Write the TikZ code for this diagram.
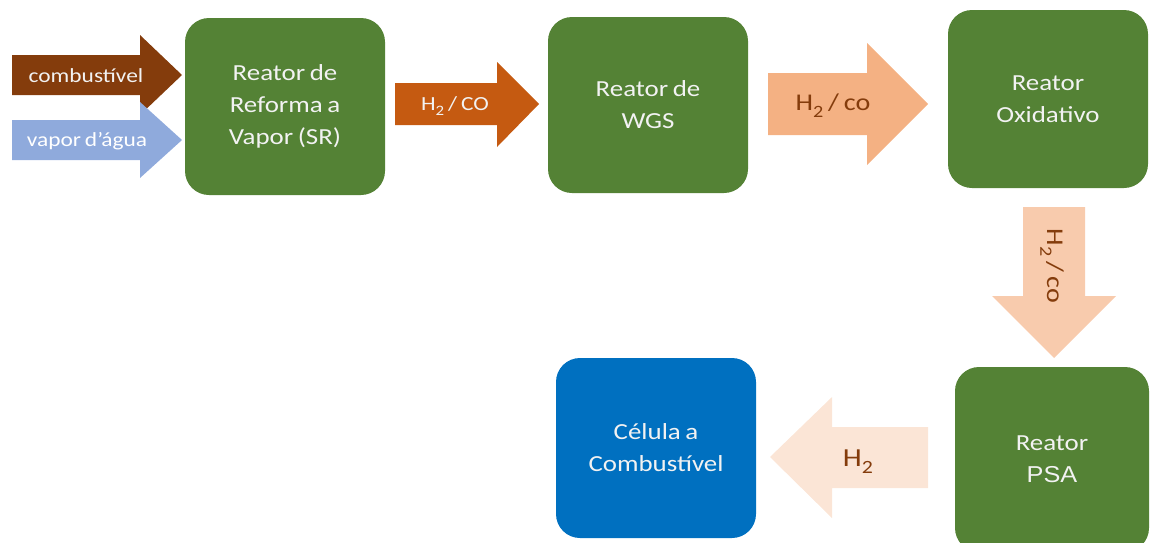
\documentclass[tikz,border=0pt]{standalone}
\usepackage{fontspec}
\usepackage{graphicx}
\setmainfont{Carlito}[FakeStretch=1.17,WordSpace=0.75]
\newfontfamily\arialf{Liberation Sans}[FakeStretch=1.1]
\newcommand{\subtwo}{\raisebox{-0.28em}{\scalebox{0.72}{2}}}
\definecolor{boxgreen}{HTML}{548235}
\definecolor{boxblue}{HTML}{0070C0}
\definecolor{boxtext}{HTML}{F2F2F2}
\definecolor{brownarrow}{HTML}{843C0C}
\definecolor{bluearrow}{HTML}{8FAADC}
\definecolor{orangearrow}{HTML}{C55A11}
\definecolor{peacharrow}{HTML}{F4B183}
\definecolor{lightpeach}{HTML}{F8CBAD}
\definecolor{palepeach}{HTML}{FBE5D6}
\definecolor{labbrown}{HTML}{843C0C}
\begin{document}
\begin{tikzpicture}[x=1pt,y=-1pt,
  reactor/.style={rounded corners=24pt, fill=boxgreen, text=boxtext, align=center,
    inner sep=0pt, font=\fontsize{23}{32}\selectfont},
  darklab/.style={text=boxtext, inner sep=0pt, font=\fontsize{20}{24}\selectfont},
  lightlab/.style={text=labbrown, inner sep=0pt, font=\fontsize{24}{28}\selectfont}]
\useasboundingbox (0,0) rectangle (1150,542);
\clip (0,0) rectangle (1150,542);
% block arrows
\fill[brownarrow] (12,55) -- (140,55) -- (140,35) -- (182,75) -- (140,115) -- (140,95) -- (12,95) -- cycle;
\fill[bluearrow] (12,120) -- (140,120) -- (140,102) -- (182,140) -- (140,178) -- (140,160) -- (12,160) -- cycle;
\fill[orangearrow] (395,83) -- (497,83) -- (497,62) -- (539,104) -- (497,147) -- (497,125) -- (395,125) -- cycle;
\fill[peacharrow] (768,73) -- (867,73) -- (867,43) -- (928,104) -- (867,165) -- (867,135) -- (768,135) -- cycle;
\fill[lightpeach] (1023,207) -- (1085,207) -- (1085,296) -- (1116,296) -- (1054,358) -- (992,296) -- (1023,296) -- cycle;
\fill[palepeach] (928,427) -- (832,427) -- (832,397) -- (770,457) -- (832,518) -- (832,488) -- (928,488) -- cycle;
% arrow labels
\node[darklab] (lcomb) at (86,76) {combustível};
\node[darklab, text=white] (lvap) at (87,141) {vapor d’água};
\node[darklab, font=\fontsize{20}{22}\selectfont] (lh2co) at (455,106) {H\subtwo{} / CO};
\node[lightlab] (lh2co2) at (833,106) {H\subtwo{} / co};
\node[lightlab, rotate=-90] (lh2co3) at (1052,266) {H\subtwo{} / co};
\node[lightlab, font=\fontsize{26}{28}\selectfont] (lh2) at (858,462) {H\subtwo};
% reactors
\node[reactor, minimum width=200pt, minimum height=177pt] (sr) at (285,106.5) {Reator de\\Reforma a\\Vapor (SR)};
\node[reactor, minimum width=200pt, minimum height=176pt] (wgs) at (648,105) {Reator de\\WGS};
\node[reactor, minimum width=200pt, minimum height=178pt] (ox) at (1048,99) {Reator\\Oxidativo};
\node[reactor, minimum width=194pt, minimum height=185pt] (psa) at (1052,459.5) {Reator\\{\arialf PSA}};
\node[reactor, fill=boxblue, minimum width=200pt, minimum height=180pt] (cell) at (656,448) {Célula a\\Combustível};
\end{tikzpicture}
\end{document}
